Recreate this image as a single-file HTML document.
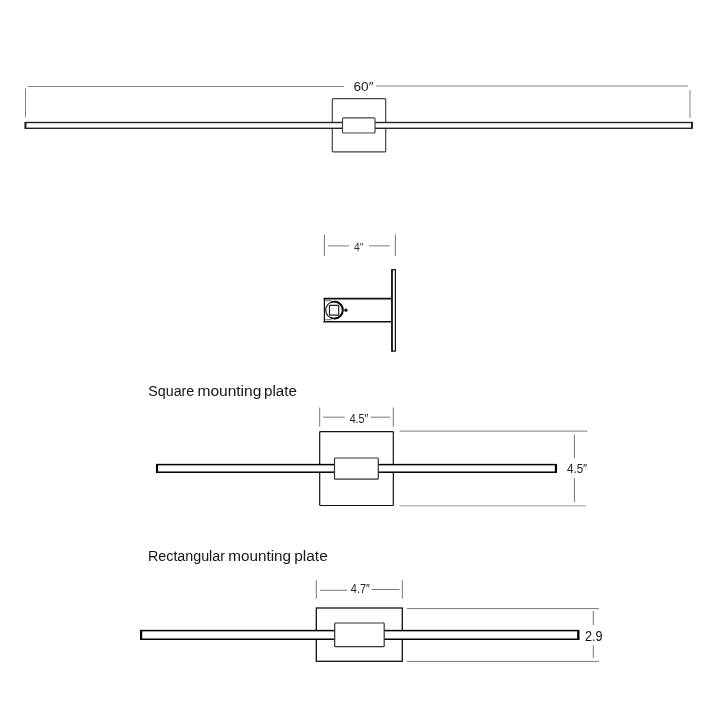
<!DOCTYPE html>
<html><head><meta charset="utf-8">
<style>
html,body{margin:0;padding:0;background:#fff;width:720px;height:720px;overflow:hidden}
svg{display:block;will-change:transform}
text{font-family:"Liberation Sans",sans-serif}
</style></head>
<body>
<svg width="720" height="720" viewBox="0 0 720 720">
<rect x="0" y="0" width="720" height="720" fill="#fff"/>

<!-- ===== Section 1: 60" ===== -->
<g fill="none">
  <line x1="25.5" y1="88.5" x2="25.5" y2="117" stroke="#808080" stroke-width="1"/>
  <line x1="28" y1="86.5" x2="344" y2="86.5" stroke="#808080" stroke-width="1"/>
  <line x1="376" y1="86" x2="688" y2="86" stroke="#c0c0c0" stroke-width="2"/>
  <line x1="690" y1="90" x2="690" y2="118" stroke="#c0c0c0" stroke-width="2"/>
</g>
<text x="353.5" y="90.7" font-size="12.5" fill="#222" textLength="20" lengthAdjust="spacingAndGlyphs">60″</text>
<rect x="332.3" y="98.7" width="53.4" height="53.2" rx="1" fill="none" stroke="#444" stroke-width="1.2"/>
<rect x="25.5" y="122.5" width="666.5" height="5.8" fill="#fff" stroke="#222" stroke-width="1.4"/>
<path d="M25.4,122 V128.8 M692,122 V128.6" stroke="#222" stroke-width="1.8" fill="none"/>
<rect x="342.5" y="117.9" width="32.5" height="15.1" rx="1" fill="#fff" stroke="#444" stroke-width="1.2"/>

<!-- ===== Section 2: 4" side view ===== -->
<g fill="none">
  <line x1="324.4" y1="234.4" x2="324.4" y2="256" stroke="#808080" stroke-width="1.1"/>
  <line x1="395.4" y1="234.4" x2="395.4" y2="256" stroke="#808080" stroke-width="1.1"/>
  <line x1="328" y1="245.8" x2="349" y2="245.8" stroke="#aaa" stroke-width="1.5"/>
  <line x1="369" y1="245.8" x2="390" y2="245.8" stroke="#aaa" stroke-width="1.5"/>
</g>
<text x="354" y="250.7" font-size="11" fill="#333" textLength="9.5" lengthAdjust="spacingAndGlyphs">4″</text>
<rect x="324.4" y="298.6" width="67" height="23.1" fill="#fff"/>
<path d="M323.6,298.6 H391.4 M323.6,321.7 H391.4" stroke="#111" stroke-width="1.6" fill="none"/>
<path d="M324.4,298 V322.3" stroke="#111" stroke-width="1.2" fill="none"/>
<rect x="391.9" y="269.7" width="3.5" height="81.4" fill="#fff" stroke="#111" stroke-width="1.2"/>
<path d="M392,269.2 V351.6" stroke="#111" stroke-width="1.6" fill="none"/>
<path d="M325.3,300.7 H331.5 M325.3,319.7 H331.5" fill="none" stroke="#444" stroke-width="0.8"/>
<circle cx="334.3" cy="310.1" r="8.6" fill="#fff" stroke="#111" stroke-width="1.1"/>
<path d="M334.3,301.6 A8.5,8.5 0 0 1 334.3,318.6" fill="none" stroke="#111" stroke-width="2"/>
<path d="M330.8,302.6 A8.5,8.5 0 0 1 342.5,307.5 M342.5,312.7 A8.5,8.5 0 0 1 330.8,317.6" fill="none" stroke="#111" stroke-width="1.6"/>
<rect x="329.5" y="305.4" width="9.2" height="9.8" rx="0.5" fill="none" stroke="#222" stroke-width="1.2"/>
<circle cx="345.9" cy="310.2" r="1.65" fill="#111"/>

<!-- ===== Section 3: Square mounting plate ===== -->
<g fill="#151515" font-size="13.8">
<text x="148.3" y="395.6" textLength="46" lengthAdjust="spacingAndGlyphs">Square</text>
<text x="197.5" y="395.6" textLength="63.8" lengthAdjust="spacingAndGlyphs">mounting</text>
<text x="264" y="395.6" textLength="33" lengthAdjust="spacingAndGlyphs">plate</text>
</g>
<g fill="none">
  <line x1="319.7" y1="407.5" x2="319.7" y2="426.7" stroke="#777" stroke-width="1"/>
  <line x1="393.3" y1="407.5" x2="393.3" y2="426.7" stroke="#777" stroke-width="1"/>
  <line x1="323" y1="417.2" x2="344.7" y2="417.2" stroke="#777" stroke-width="1"/>
  <line x1="370.8" y1="417.2" x2="390" y2="417.2" stroke="#777" stroke-width="1"/>
  <line x1="399.5" y1="431.1" x2="587.5" y2="431.1" stroke="#777" stroke-width="1"/>
  <line x1="399.5" y1="505.8" x2="586" y2="505.8" stroke="#bbb" stroke-width="1.5"/>
  <line x1="574.4" y1="434.6" x2="574.4" y2="458.2" stroke="#777" stroke-width="1"/>
  <line x1="574.4" y1="478.3" x2="574.4" y2="502" stroke="#777" stroke-width="1"/>
</g>
<text x="349.7" y="422.5" font-size="12.3" fill="#222" textLength="18.6" lengthAdjust="spacingAndGlyphs">4.5″</text>
<text x="567" y="472.5" font-size="12.3" fill="#222" textLength="20.2" lengthAdjust="spacingAndGlyphs">4.5″</text>
<rect x="319.7" y="431.7" width="73.6" height="73.8" rx="0.8" fill="none" stroke="#111" stroke-width="1.2"/>
<rect x="156.9" y="464.6" width="399" height="7.6" fill="#fff" stroke="#000" stroke-width="1.5"/>
<path d="M157,463.9 V472.9 M555.9,463.9 V472.9" stroke="#000" stroke-width="2.1" fill="none"/>
<rect x="334.5" y="458" width="43.8" height="21.2" rx="0.8" fill="#fff" stroke="#333" stroke-width="1.2"/>

<!-- ===== Section 4: Rectangular mounting plate ===== -->
<g fill="#151515" font-size="13.8">
<text x="148" y="561.3" textLength="77" lengthAdjust="spacingAndGlyphs">Rectangular</text>
<text x="228.3" y="561.3" textLength="62.8" lengthAdjust="spacingAndGlyphs">mounting</text>
<text x="294.2" y="561.3" textLength="33.6" lengthAdjust="spacingAndGlyphs">plate</text>
</g>
<g fill="none">
  <line x1="316.3" y1="580.3" x2="316.3" y2="598.7" stroke="#777" stroke-width="1"/>
  <line x1="402.3" y1="580.3" x2="402.3" y2="598.7" stroke="#777" stroke-width="1"/>
  <line x1="320.3" y1="590.3" x2="347.2" y2="590.3" stroke="#777" stroke-width="1"/>
  <line x1="371.7" y1="589.5" x2="399.5" y2="589.5" stroke="#777" stroke-width="1"/>
  <line x1="407" y1="608.6" x2="598.9" y2="608.6" stroke="#777" stroke-width="1"/>
  <line x1="407" y1="661.4" x2="598.9" y2="661.4" stroke="#777" stroke-width="1"/>
  <line x1="593.3" y1="611" x2="593.3" y2="625.2" stroke="#777" stroke-width="1"/>
  <line x1="593.3" y1="645.2" x2="593.3" y2="657.8" stroke="#777" stroke-width="1"/>
</g>
<text x="350.8" y="592.8" font-size="12" fill="#222" textLength="19.2" lengthAdjust="spacingAndGlyphs">4.7″</text>
<text x="584.9" y="640.6" font-size="14.3" fill="#111" textLength="17.5" lengthAdjust="spacingAndGlyphs">2.9</text>
<rect x="316.3" y="608" width="86" height="53.3" rx="0" fill="none" stroke="#111" stroke-width="1.3"/>
<rect x="141" y="630.6" width="437.4" height="8.65" fill="#fff" stroke="#000" stroke-width="1.5"/>
<path d="M141.1,629.9 V640 M578.3,629.9 V640" stroke="#000" stroke-width="2.2" fill="none"/>
<rect x="334.7" y="623" width="49.5" height="23.7" rx="0.8" fill="#fff" stroke="#333" stroke-width="1.2"/>
</svg>
</body></html>
